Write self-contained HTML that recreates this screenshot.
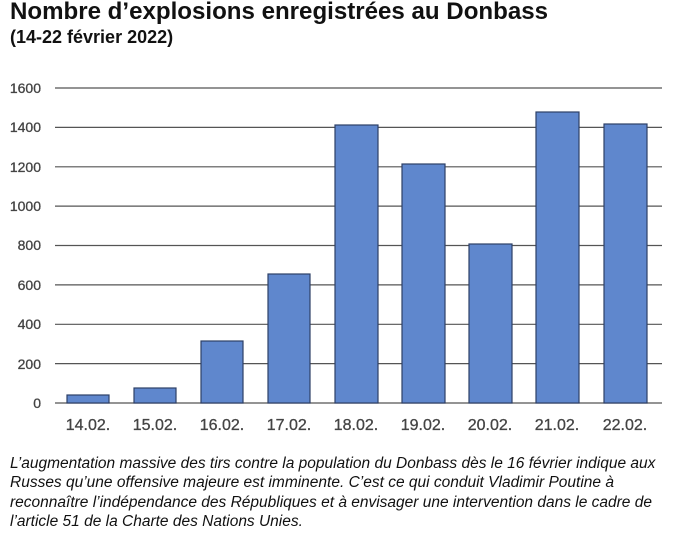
<!DOCTYPE html>
<html><head><meta charset="utf-8"><style>
body{margin:0;background:#fff;width:685px;height:532px;overflow:hidden;font-family:"Liberation Sans",sans-serif;}
</style></head><body>
<svg width="685" height="532" xmlns="http://www.w3.org/2000/svg" font-family="Liberation Sans, sans-serif">
<text x="10" y="19" font-size="24" font-weight="bold" fill="#111" textLength="538" lengthAdjust="spacingAndGlyphs">Nombre d’explosions enregistrées au Donbass</text>
<text x="10" y="43" font-size="18" font-weight="bold" fill="#111">(14-22 février 2022)</text>
<g stroke="#555" stroke-width="1.2">
<line x1="55" x2="662" y1="88" y2="88"/>
<line x1="55" x2="662" y1="127.4" y2="127.4"/>
<line x1="55" x2="662" y1="166.8" y2="166.8"/>
<line x1="55" x2="662" y1="206.1" y2="206.1"/>
<line x1="55" x2="662" y1="245.5" y2="245.5"/>
<line x1="55" x2="662" y1="284.9" y2="284.9"/>
<line x1="55" x2="662" y1="324.3" y2="324.3"/>
<line x1="55" x2="662" y1="363.6" y2="363.6"/>
<line x1="55" x2="662" y1="403" y2="403"/>
</g>
<g font-size="14" fill="#444" text-anchor="end" stroke="#444" stroke-width="0.3">
<text x="41" y="93">1600</text><text x="41" y="132">1400</text><text x="41" y="172">1200</text>
<text x="41" y="211">1000</text><text x="41" y="250">800</text><text x="41" y="290">600</text>
<text x="41" y="329">400</text><text x="41" y="369">200</text><text x="41" y="408">0</text>
</g>
<g fill="#5f87cd" stroke="#2d3f66" stroke-width="1.2">
<rect x="67" y="395" width="42" height="8"/>
<rect x="134" y="388" width="42" height="15"/>
<rect x="201" y="341" width="42" height="62"/>
<rect x="268" y="274" width="42" height="129"/>
<rect x="335" y="125" width="43" height="278"/>
<rect x="402" y="164" width="43" height="239"/>
<rect x="469" y="244" width="43" height="159"/>
<rect x="536" y="112" width="43" height="291"/>
<rect x="604" y="124" width="43" height="279"/>
</g>
<g font-size="16" fill="#444" text-anchor="middle" stroke="#444" stroke-width="0.3">
<text x="88" y="430">14.02.</text><text x="155" y="430">15.02.</text><text x="222" y="430">16.02.</text>
<text x="289" y="430">17.02.</text><text x="356" y="430">18.02.</text><text x="423" y="430">19.02.</text>
<text x="490" y="430">20.02.</text><text x="557" y="430">21.02.</text><text x="625" y="430">22.02.</text>
</g>
<g font-size="15.5" font-style="italic" fill="#111">
<text x="10" y="468">L’augmentation massive des tirs contre la population du Donbass dès le 16 février indique aux</text>
<text x="10" y="487">Russes qu’une offensive majeure est imminente. C’est ce qui conduit Vladimir Poutine à</text>
<text x="10" y="507">reconnaître l’indépendance des Républiques et à envisager une intervention dans le cadre de</text>
<text x="10" y="526">l’article 51 de la Charte des Nations Unies.</text>
</g>
</svg>
</body></html>
